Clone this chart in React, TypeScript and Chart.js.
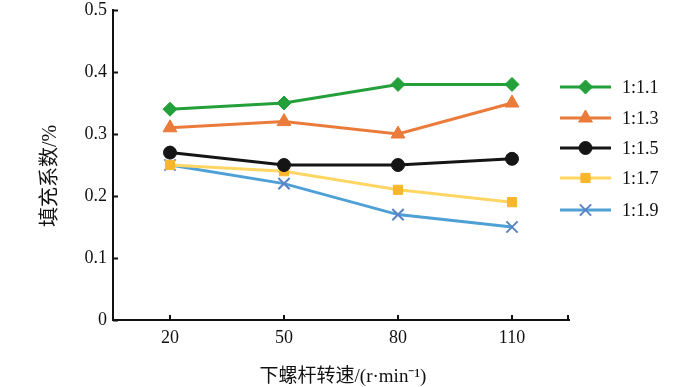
import React, { useEffect, useRef } from "react";
import { Chart, registerables } from "chart.js";
import { drawPoint } from "chart.js/helpers";

Chart.register(...registerables);

const categories = ["20", "50", "80", "110"];
const seriesNames = ["1:1.1", "1:1.3", "1:1.5", "1:1.7", "1:1.9"];
const s11 = [0.34, 0.35, 0.38, 0.38];
const s13 = [0.31, 0.32, 0.3, 0.35];
const s15 = [0.27, 0.25, 0.25, 0.26];
const s17 = [0.25, 0.24, 0.21, 0.19];
const s19 = [0.25, 0.22, 0.17, 0.15];
const yTicks = [0, 0.1, 0.2, 0.3, 0.4, 0.5];
const xTitle = "下螺杆转速/(r·min⁻¹)";
const yTitle = "填充系数/%";

const serif = "'Liberation Serif', 'Noto Sans CJK SC', serif";

const styles = [
  { line: "#23a03a", fill: "#23a03a", point: "rectRot", r: 7 },
  { line: "#ea7b3b", fill: "#ea7b3b", point: "triangle", r: 8 },
  { line: "#151515", fill: "#151515", point: "circle", r: 6.5 },
  { line: "#ffd663", fill: "#f8b62b", point: "rect", r: 6.5 },
  { line: "#4ea0d6", fill: "#5b84c6", point: "crossRot", r: 8 },
];

const extrasPlugin = {
  id: "extras",
  afterDraw(chart: any) {
    const ctx = chart.ctx;
    const x = chart.scales.x;
    const y = chart.scales.y;
    const area = chart.chartArea;
    ctx.save();
    ctx.strokeStyle = "#111";
    ctx.lineWidth = 2;
    yTicks.forEach((v) => {
      const py = Math.round(y.getPixelForValue(v)) + 0.5;
      ctx.beginPath();
      ctx.moveTo(area.left, py);
      ctx.lineTo(area.left + 5, py);
      ctx.stroke();
    });
    const xs = categories.map((_, i) => x.getPixelForValue(i));
    xs.push(area.right - 1);
    xs.forEach((px) => {
      ctx.beginPath();
      ctx.moveTo(px, area.bottom);
      ctx.lineTo(px, area.bottom - 5);
      ctx.stroke();
    });
    ctx.fillStyle = "#111";
    ctx.textAlign = "center";
    ctx.textBaseline = "middle";
    ctx.font = `19px ${serif}`;
    ctx.fillText(xTitle, 343, 377);
    ctx.save();
    ctx.translate(51, 176);
    ctx.rotate(-Math.PI / 2);
    ctx.font = `20px ${serif}`;
    ctx.fillText(yTitle, 0, 0);
    ctx.restore();
    const ly = [87, 118, 148, 178, 210];
    chart.data.datasets.forEach((ds: any, i: number) => {
      const st = styles[i];
      ctx.strokeStyle = st.line;
      ctx.lineWidth = 3;
      ctx.beginPath();
      ctx.moveTo(560, ly[i]);
      ctx.lineTo(611, ly[i]);
      ctx.stroke();
      ctx.fillStyle = st.fill;
      ctx.strokeStyle = st.fill;
      ctx.lineWidth = st.point === "crossRot" ? 2 : 1;
      drawPoint(ctx, { pointStyle: st.point, radius: st.r, rotation: 0, borderWidth: ctx.lineWidth }, 585.5, ly[i]);
      ctx.fillStyle = "#111";
      ctx.font = `18px ${serif}`;
      ctx.textAlign = "left";
      ctx.textBaseline = "middle";
      ctx.fillText(ds.label, 622, ly[i] + 1);
    });
    ctx.restore();
  },
};

export default function App() {
  const ref = useRef<HTMLCanvasElement>(null);
  useEffect(() => {
    document.body.style.margin = "0";
    const data = [s11, s13, s15, s17, s19];
    const chart = new Chart(ref.current!, {
      type: "line",
      data: {
        labels: categories,
        datasets: data.map((d, i) => ({
          label: seriesNames[i],
          data: d,
          borderColor: styles[i].line,
          backgroundColor: styles[i].fill,
          pointBackgroundColor: styles[i].fill,
          pointBorderColor: styles[i].fill,
          pointStyle: styles[i].point as any,
          pointRadius: styles[i].r,
          pointBorderWidth: styles[i].point === "crossRot" ? 2 : 1,
          borderWidth: 3,
          tension: 0,
          fill: false,
        })),
      },
      options: {
        animation: false,
        responsive: false,
        events: [],
        layout: { padding: { left: 0, right: 131, top: 10, bottom: 0 } },
        plugins: { legend: { display: false }, tooltip: { enabled: false } },
        scales: {
          x: {
            type: "category",
            offset: true,
            grid: { display: true, drawOnChartArea: false, drawTicks: false },
            border: { display: true, color: "#111", width: 2 },
            ticks: { color: "#111", font: { family: serif, size: 18 }, padding: 7 },
            afterFit: (s: any) => { s.height = 67; s.paddingLeft = 0; s.paddingRight = 0; },
          },
          y: {
            min: 0,
            max: 0.5,
            grid: { display: true, drawOnChartArea: false, drawTicks: false },
            border: { display: true, color: "#111", width: 2 },
            ticks: {
              stepSize: 0.1,
              color: "#111",
              font: { family: serif, size: 18 },
              padding: 6,
              callback: (v: any) => (Number(v) === 0 ? "0" : Number(v).toFixed(1)),
            },
            afterFit: (s: any) => { s.width = 113; s.paddingTop = 0; s.paddingBottom = 0; },
          },
        },
      },
      plugins: [extrasPlugin],
    });
    return () => chart.destroy();
  }, []);
  return <canvas ref={ref} width={700} height={387} style={{ display: "block" }} />;
}
